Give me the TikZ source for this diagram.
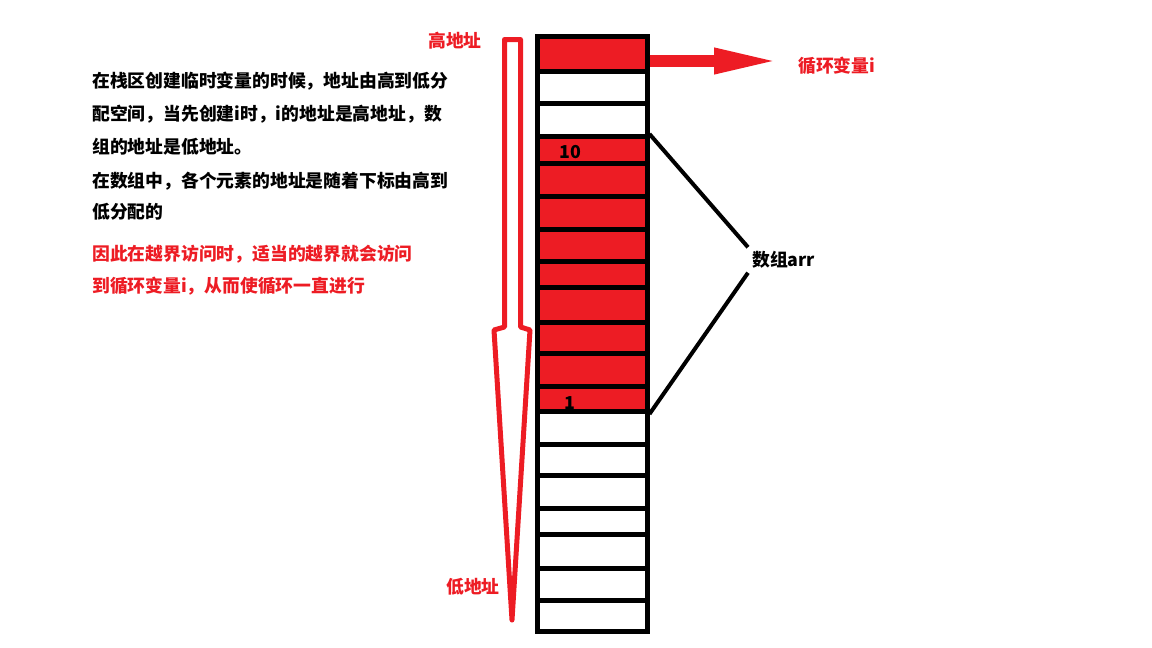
\documentclass[tikz,border=0pt]{standalone}
\usepackage{fontspec}
\newfontfamily\cjk{Noto Sans CJK SC}
\usetikzlibrary{arrows.meta,positioning}
\definecolor{paintred}{HTML}{ED1C24}
\tikzset{
  cell/.style={draw=black,line width=5pt,minimum width=110pt,inner sep=0pt},
  note/.style={font=\cjk\bfseries\fontsize{17.8}{20}\selectfont,inner sep=0pt},
  rednote/.style={note,text=paintred}
}

\begin{document}
\begin{tikzpicture}[x=1pt,y=-1pt]
\useasboundingbox (0,0) rectangle (1152,648);
% ==========================================
% stack cells, top to bottom
\foreach \t/\b/\f [count=\n] in {36/71.5/paintred,71.5/103/white,103/136.5/white,
  136.5/163.5/paintred,163.5/196.5/paintred,196.5/229.5/paintred,229.5/261/paintred,
  261/287.5/paintred,287.5/322/paintred,322/353/paintred,353/386.5/paintred,
  386.5/411.5/paintred,411.5/444/white,444/475.5/white,475.5/508/white,
  508/534.5/white,534.5/568/white,568/600/white,600/631/white}
{
  \pgfmathsetmacro\h{\b-\t}
  \node[cell,fill=\f,minimum height=\h] (c\n) at (592,{(\t+\b)/2}) {};
}
\node[note] (ten) at (570,152) {10};
\node[note] (one) at (570,403) {1};
%
\node[rednote,anchor=west] (loopvar) at (798,66) {循环变量i};
\coordinate (tipi) at (782,61);
\draw [paintred,line width=12pt,-{Triangle[length=68pt,width=23pt]}] (c1.east |- tipi) -- (tipi);%Arrow.
%
\node[note,anchor=west,inner sep=4pt] (arr) at (748,260) {数组arr};
\draw [black,line width=4pt] (c4.north east) -- (arr.north west);
\draw [black,line width=4pt] (c12.south east) -- (arr.south west);
% =============================================
% high to low address
\node[rednote] (high) at (455,41) {高地址};
\node[rednote] (low) at (473,587) {低地址};
\draw [paintred,line width=5pt,line join=round] (504.5,39.5) -- (520.5,39.5) -- (520.5,327) -- (530,330)
  -- (512,620) -- (494,330) -- (504.5,327) -- cycle;%Arrow.
% =============================================
% notes
\node[note,anchor=west] (l1) at (92,81) {在栈区创建临时变量的时候，地址由高到低分};
\node[note,anchor=west] (l2) at (92,114) {配空间，当先创建i时，i的地址是高地址，数};
\node[note,anchor=west] (l3) at (92,147) {组的地址是低地址。};
\node[note,anchor=west] (l4) at (92,181) {在数组中，各个元素的地址是随着下标由高到};
\node[note,anchor=west] (l5) at (92,212) {低分配的};
\node[rednote,anchor=west] (r1) at (92,254) {因此在越界访问时，适当的越界就会访问};
\node[rednote,anchor=west] (r2) at (92,286) {到循环变量i，从而使循环一直进行};
% =============================================
\end{tikzpicture}
\end{document}
